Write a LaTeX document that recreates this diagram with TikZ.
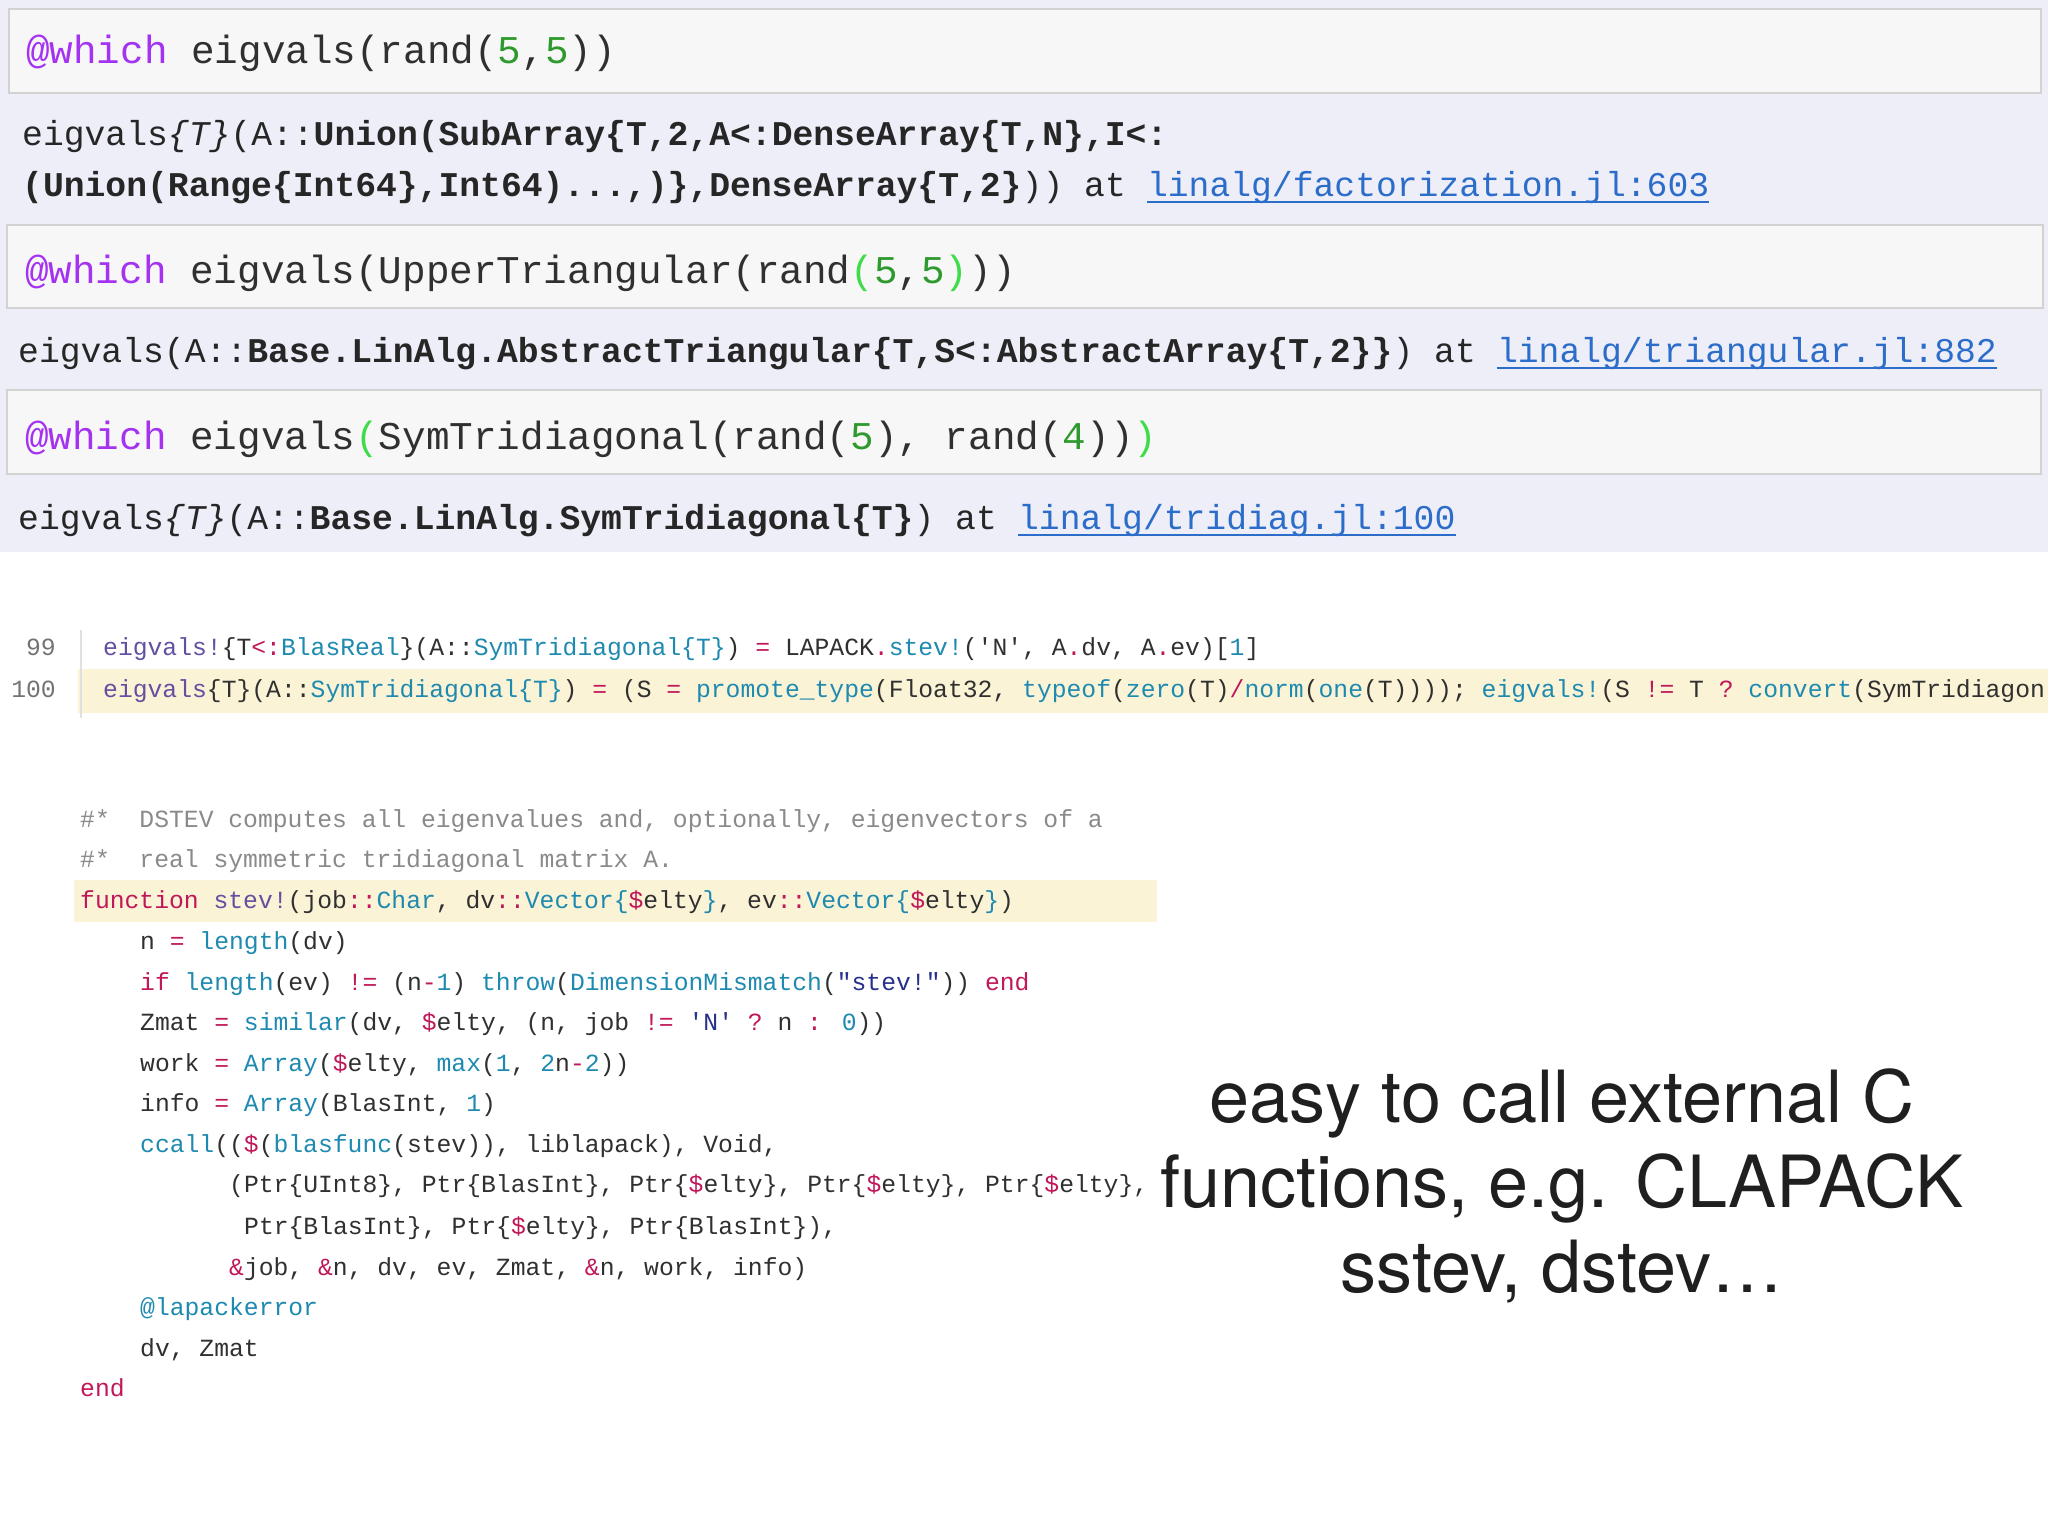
\documentclass[tikz,border=0pt]{standalone}
\usepackage{fontspec}
\newfontfamily\codefont{Liberation Mono}
\newfontfamily\headfont{TeX Gyre Heros}
\definecolor{lav}{HTML}{EEEEF9}
\definecolor{boxfill}{HTML}{F7F7F7}
\definecolor{boxline}{HTML}{D2D2D2}
\definecolor{wpurp}{HTML}{A432F0}
\definecolor{wnum}{HTML}{2E9A2E}
\definecolor{wpar}{HTML}{3FDC4A}
\definecolor{wlink}{HTML}{2B6DC9}
\definecolor{cfn}{HTML}{6450A0}
\definecolor{cty}{HTML}{1F8AB0}
\definecolor{cop}{HTML}{C0185A}
\definecolor{cstr}{HTML}{27308A}
\definecolor{ccom}{HTML}{8A8A8A}
\definecolor{ctxt}{HTML}{303030}
\definecolor{hl}{HTML}{FBF3D5}
\newcommand\cFn[1]{\textcolor{cfn}{#1}}
\newcommand\cTy[1]{\textcolor{cty}{#1}}
\newcommand\cOp[1]{\textcolor{cop}{#1}}
\newcommand\cStr[1]{\textcolor{cstr}{#1}}
\tikzset{
  wbox/.style={fill=boxfill,draw=boxline,line width=2pt},
  wl/.style={anchor=base west,inner sep=0,font=\codefont\fontsize{39.3}{45}\selectfont,text=ctxt},
  ol/.style={anchor=base west,inner sep=0,font=\codefont\fontsize{34.7}{40}\selectfont,text=black!85},
  cl/.style={anchor=base west,inner sep=0,font=\codefont\fontsize{24.7}{30}\selectfont,text=ctxt},
  ln/.style={anchor=base east,inner sep=0,font=\codefont\fontsize{24.7}{30}\selectfont,text=black!55},
  lnk/.style={text=wlink},
}
\begin{document}
\begin{tikzpicture}[x=1pt,y=-1pt]
\useasboundingbox (0,0) rectangle (2048,1536);
\clip (0,0) rectangle (2048,1536);
\fill[white] (0,0) rectangle (2048,1536);
\fill[lav] (0,0) rectangle (2048,552);
% input boxes
\draw[wbox] (9,9) rectangle (2041,93);
\draw[wbox] (7,225) rectangle (2043,308);
\draw[wbox] (7,390) rectangle (2041,474);
\node[wl] (w1) at (26,64) {\textcolor{wpurp}{@which} eigvals(rand(\textcolor{wnum}{5},\textcolor{wnum}{5}))};
\node[wl] (w2) at (25,283) {\textcolor{wpurp}{@which} eigvals(UpperTriangular(rand\textcolor{wpar}{(}\textcolor{wnum}{5},\textcolor{wnum}{5}\textcolor{wpar}{)}))};
\node[wl] (w3) at (25,449) {\textcolor{wpurp}{@which} eigvals\textcolor{wpar}{(}SymTridiagonal(rand(\textcolor{wnum}{5}), rand(\textcolor{wnum}{4}))\textcolor{wpar}{)}};
% outputs
\node[ol] (o1a) at (22,146) {eigvals{\itshape\{T\}}(A::\textbf{Union(SubArray\{T,2,A<:DenseArray\{T,N\},I<:}};
\node[ol] (o1b) at (22,196) {\textbf{(Union(Range\{Int64\},Int64)...,)\},DenseArray\{T,2\}})) at};
\node[ol,lnk,anchor=base west] (k1) at ([xshift=20.8pt]o1b.base east) {linalg/factorization.jl:603};
\node[ol] (o2) at (18,362) {eigvals(A::\textbf{Base.LinAlg.AbstractTriangular\{T,S<:AbstractArray\{T,2\}\}}) at};
\node[ol,lnk] (k2) at ([xshift=20.8pt]o2.base east) {linalg/triangular.jl:882};
\node[ol] (o3) at (18,529) {eigvals{\itshape\{T\}}(A::\textbf{Base.LinAlg.SymTridiagonal\{T\}}) at};
\node[ol,lnk] (k3) at ([xshift=20.8pt]o3.base east) {linalg/tridiag.jl:100};
\foreach \k in {k1,k2,k3}
  \draw[wlink,line width=1.8pt] ([yshift=-6pt]\k.base west) -- ([yshift=-6pt]\k.base east);
% source lines 99/100
\fill[hl] (78,669) rectangle (2048,713);
\draw[black!12,line width=1.5pt] (81,630) -- (81,718);
\node[ln] (n99) at (56,655) {99};
\node[ln] (n100) at (56,697) {100};
\node[cl] (s99) at (103,655) {\cFn{eigvals!}\{T\cOp{<:}\cTy{BlasReal}\}(A::\cTy{SymTridiagonal\{T\}}) \cOp{=} LAPACK\cOp{.}\cTy{stev!}('N', A\cOp{.}dv, A\cOp{.}ev)[\cTy{1}]};
\node[cl] (s100) at (103,697) {\cFn{eigvals}\{T\}(A::\cTy{SymTridiagonal\{T\}}) \cOp{=} (S \cOp{=} \cTy{promote\_type}(Float32, \cTy{typeof}(\cTy{zero}(T)\cOp{/}\cTy{norm}(\cTy{one}(T)))); \cTy{eigvals!}(S \cOp{!=} T \cOp{?} \cTy{convert}(SymTridiagon};
% stev function
\fill[hl] (74,880) rectangle (1157,922);
\node[cl,text=ccom] (c1) at (80,827) {\#*~~DSTEV computes all eigenvalues and, optionally, eigenvectors of a};
\node[cl,text=ccom] (c2) at (80,867) {\#*~~real symmetric tridiagonal matrix A.};
\node[cl] (c3) at (80,908) {\cOp{function} \cFn{stev!}(job\cOp{::}\cTy{Char}, dv\cOp{::}\cTy{Vector\{}\cOp{\$}elty\cTy{\}}, ev\cOp{::}\cTy{Vector\{}\cOp{\$}elty\cTy{\}})};
\node[cl] (c4) at (140,949) {n \cOp{=} \cTy{length}(dv)};
\node[cl] (c5) at (140,990) {\cOp{if} \cTy{length}(ev) \cOp{!=} (n\cOp{-}\cTy{1}) \cTy{throw}(\cTy{DimensionMismatch}(\cStr{"stev!"})) \cOp{end}};
\node[cl] (c6) at (140,1030) {Zmat \cOp{=} \cTy{similar}(dv, \cOp{\$}elty, (n, job \cOp{!=} \cStr{'N'} \cOp{?} n \cOp{:} \cTy{0}))};
\node[cl] (c7) at (140,1071) {work \cOp{=} \cTy{Array}(\cOp{\$}elty, \cTy{max}(\cTy{1}, \cTy{2}n\cOp{-}\cTy{2}))};
\node[cl] (c8) at (140,1111) {info \cOp{=} \cTy{Array}(BlasInt, \cTy{1})};
\node[cl] (c9) at (140,1152) {\cTy{ccall}((\cOp{\$}(\cTy{blasfunc}(stev)), liblapack), Void,};
\node[cl] (c10) at (229,1192) {(Ptr\{UInt8\}, Ptr\{BlasInt\}, Ptr\{\cOp{\$}elty\}, Ptr\{\cOp{\$}elty\}, Ptr\{\cOp{\$}elty\},};
\node[cl] (c11) at (244,1234) {Ptr\{BlasInt\}, Ptr\{\cOp{\$}elty\}, Ptr\{BlasInt\}),};
\node[cl] (c12) at (229,1275) {\cOp{\&}job, \cOp{\&}n, dv, ev, Zmat, \cOp{\&}n, work, info)};
\node[cl,text=cty] (c13) at (140,1315) {@lapackerror};
\node[cl] (c14) at (140,1356) {dv, Zmat};
\node[cl,text=cop] (c15) at (80,1396) {end};
% caption
\node[align=center,inner sep=0,text=black!88,font=\headfont\fontsize{72}{85}\selectfont] (cap) at (1562,1186)
  {easy to call external C\\functions, e.g. CLAPACK\\sstev, dstev\dots};
\end{tikzpicture}
\end{document}
